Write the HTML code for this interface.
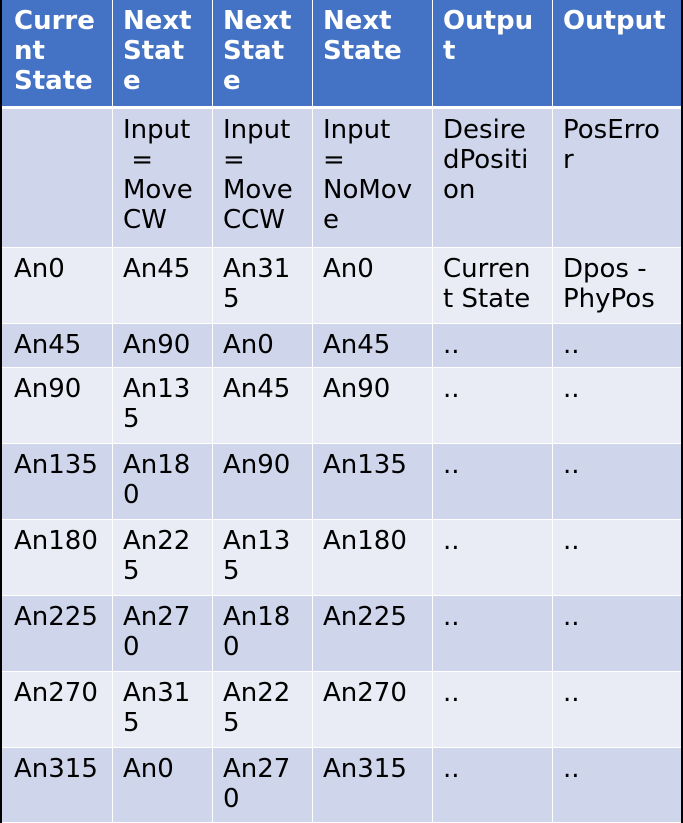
<!DOCTYPE html>
<html><head><style>
body{margin:0;width:683px;height:823px;background:#000;position:relative;overflow:hidden;font-family:"DejaVu Sans","Liberation Sans",sans-serif;}
.c{position:absolute;box-sizing:border-box;padding:6px 0 0 11px;font-size:26px;line-height:30px;color:#000;overflow:hidden;white-space:nowrap;}
.h{background:#4472C4;color:#fff;font-weight:bold;}
.d{background:#CFD5EA}.l{background:#E9EBF5}
</style></head><body>
<div style="position:absolute;left:2px;top:0;width:679px;height:823px;background:#fff"></div>
<div id="t"></div>
<script>
var xs=[2,112,212,312,432,552,681];
var ys=[0,108,247,323,367,443,519,595,671,747,822];
var rows=[
["Curre<br>nt<br>State","Next<br>Stat<br>e","Next<br>Stat<br>e","Next<br>State","Outpu<br>t","Output"],
["","Input<br>&nbsp;=<br>Move<br>CW","Input<br>=<br>Move<br>CCW","Input<br>=<br>NoMov<br>e","Desire<br>dPositi<br>on","PosErro<br>r"],
["An0","An45","An31<br>5","An0","Curren<br>t State","Dpos -<br>PhyPos"],
["An45","An90","An0","An45","..",".."],
["An90","An13<br>5","An45","An90","..",".."],
["An135","An18<br>0","An90","An135","..",".."],
["An180","An22<br>5","An13<br>5","An180","..",".."],
["An225","An27<br>0","An18<br>0","An225","..",".."],
["An270","An31<br>5","An22<br>5","An270","..",".."],
["An315","An0","An27<br>0","An315","..",".."]];
var h="";
for(var r=0;r<10;r++){var cls=r==0?"h":(r%2==1?"d":"l");
for(var c=0;c<6;c++){var x=xs[c]+(c>0?1:0),w=xs[c+1]-x,y=ys[r]+(r>0?1:0),hh=ys[r+1]-y-(r==0?2:0);
h+='<div class="c '+cls+'" style="left:'+x+'px;top:'+y+'px;width:'+w+'px;height:'+hh+'px;padding-left:'+(c==0?12:10)+'px">'+rows[r][c]+'</div>';}}
document.getElementById("t").innerHTML=h;
</script>
</body></html>
